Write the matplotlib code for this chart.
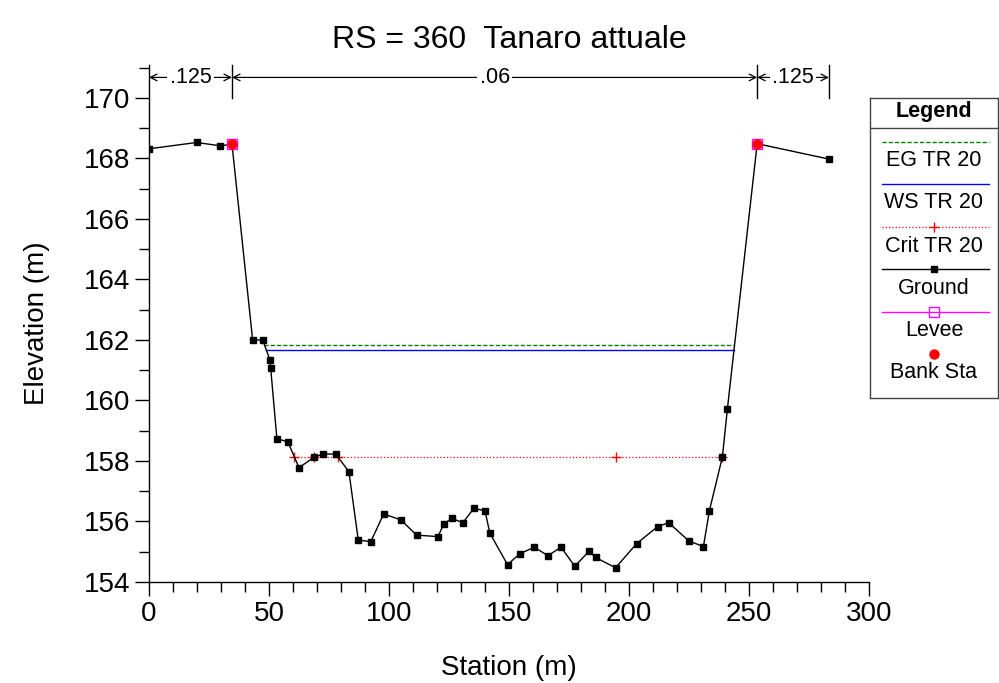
import matplotlib
matplotlib.use('Agg')
import matplotlib.pyplot as plt
import numpy as np
from matplotlib.ticker import MultipleLocator

plt.rcParams['font.family'] = ['Liberation Sans', 'DejaVu Sans']

# Ground profile (station, elevation)
ground_x = [0, 19.9, 29.6, 34.6, 43.2, 47.4, 50.4, 50.7, 53.3, 57.9, 62.5, 68.75,
            72.4, 77.8, 83.3, 87.2, 92.4, 97.8, 105.0, 111.5, 120.4, 122.9, 126.2,
            130.8, 135.3, 140.0, 142.0, 149.4, 154.4, 160.6, 166.2, 171.7, 177.4,
            183.3, 186.1, 194.4, 203.2, 211.9, 216.5, 224.9, 231.0, 233.5, 238.9,
            241.0, 253.4, 283.3]
ground_y = [168.32, 168.53, 168.42, 168.47, 162.0, 162.0, 161.34, 161.08, 158.74,
            158.63, 157.78, 158.12, 158.23, 158.23, 157.65, 155.39, 155.33, 156.25,
            156.05, 155.55, 155.50, 155.93, 156.10, 155.96, 156.43, 156.36, 155.62,
            154.57, 154.93, 155.15, 154.87, 155.15, 154.52, 155.01, 154.81, 154.47,
            155.27, 155.83, 155.96, 155.36, 155.17, 156.36, 158.13, 159.73, 168.49,
            167.98]

# Water surfaces
eg_x = [48.0, 243.9]
eg_y = [161.84, 161.84]
ws_x = [48.9, 243.8]
ws_y = [161.66, 161.66]
crit_x = [60.5, 68.75, 78.75, 194.4, 238.9]
crit_y = [158.12, 158.12, 158.12, 158.12, 158.12]

# Bank stations / levees
bank_x = [34.6, 253.4]
bank_y = [168.47, 168.49]

# Manning's n regions
n_breaks = [0, 34.6, 253.4, 283.3]
n_values = ['.125', '.06', '.125']

fig = plt.figure(figsize=(9.99, 6.83), dpi=100)
ax = fig.add_axes([0.1491, 0.1479, 0.7208, 0.7569])

ax.plot(eg_x, eg_y, color='#008000', ls='--', lw=1.0, dashes=(3, 1.5))
ax.plot(ws_x, ws_y, color='blue', lw=1.0)
ax.plot(crit_x, crit_y, color='red', ls=':', lw=0.9, marker='+', ms=7, mew=1.0)
ax.plot(ground_x, ground_y, color='black', lw=1.0, marker='s', ms=5)
ax.plot(bank_x, bank_y, ls='none', marker='s', ms=7.5, mfc='none', mec='magenta', mew=1.0)
ax.plot(bank_x, bank_y, ls='none', marker='o', ms=6.5, color='red')

ymax = 171.09
ax.set_xlim(0, 300)
ax.set_ylim(154, ymax)
ax.spines['top'].set_visible(False)
ax.spines['right'].set_visible(False)
ax.xaxis.set_major_locator(MultipleLocator(50))
ax.xaxis.set_minor_locator(MultipleLocator(10))
ax.set_yticks(np.arange(154, 171, 2))
ax.yaxis.set_minor_locator(MultipleLocator(1))
ax.tick_params(which='major', direction='out', length=10, width=1, labelsize=20)
ax.tick_params(which='minor', direction='out', length=7, width=1)
ax.spines['left'].set_linewidth(1)
ax.spines['bottom'].set_linewidth(1)

ax.set_xlabel('Station (m)', fontsize=20, labelpad=20)
ax.set_ylabel('Elevation (m)', fontsize=20, labelpad=24)
ax.set_title('RS = 360  Tanaro attuale', fontsize=23, pad=12)

# Manning's n annotations
y_arrow = 170.68
for xb in n_breaks[1:]:
    ax.plot([xb, xb], [170.0, ymax], color='black', lw=1, clip_on=False)
for i, lab in enumerate(n_values):
    x0, x1 = n_breaks[i], n_breaks[i + 1]
    ax.annotate('', xy=(x0, y_arrow), xytext=(x1, y_arrow),
                arrowprops=dict(arrowstyle='<->', lw=0.9, shrinkA=0, shrinkB=0,
                                mutation_scale=12), annotation_clip=False)
    ax.text((x0 + x1) / 2, y_arrow, lab, ha='center', va='center', fontsize=15.5,
            bbox=dict(facecolor='white', edgecolor='none', pad=1.5))

# Legend box
lg = fig.add_axes([870 / 999, 1 - 398 / 683, 128 / 999, 300 / 683])
lg.set_xlim(0, 128)
lg.set_ylim(300, 0)
lg.set_xticks([])
lg.set_yticks([])
for s in lg.spines.values():
    s.set_linewidth(1)
    s.set_color('#444444')
lg.plot([0, 128], [30, 30], color='#444444', lw=1)
lg.text(64, 14, 'Legend', ha='center', va='center', fontsize=15.5, fontweight='bold')
lx = [12, 119]
items = [
    ('EG TR 20', 44, 62, dict(color='#008000', ls='--', lw=1.0, dashes=(3, 1.5))),
    ('WS TR 20', 86, 104, dict(color='blue', lw=1.0)),
    ('Crit TR 20', 129, 149, dict(color='red', ls=':', lw=0.9)),
    ('Ground', 171, 190, dict(color='black', lw=1.0)),
    ('Levee', 214, 233, dict(color='magenta', lw=1.0)),
]
for lab, yl, yt, kw in items:
    lg.plot(lx, [yl, yl], **kw)
    lg.text(64, yt, lab, ha='center', va='center', fontsize=15.5)
lg.plot(64, 129, marker='+', color='red', ms=7, mew=1.0)
lg.plot(64, 171, marker='s', color='black', ms=5)
lg.plot(64, 214, marker='s', mfc='none', mec='magenta', ms=7, mew=1.0)
lg.plot(64, 256, marker='o', color='red', ms=6.5)
lg.text(64, 275, 'Bank Sta', ha='center', va='center', fontsize=15.5)

fig.savefig('out.png', dpi=100)
